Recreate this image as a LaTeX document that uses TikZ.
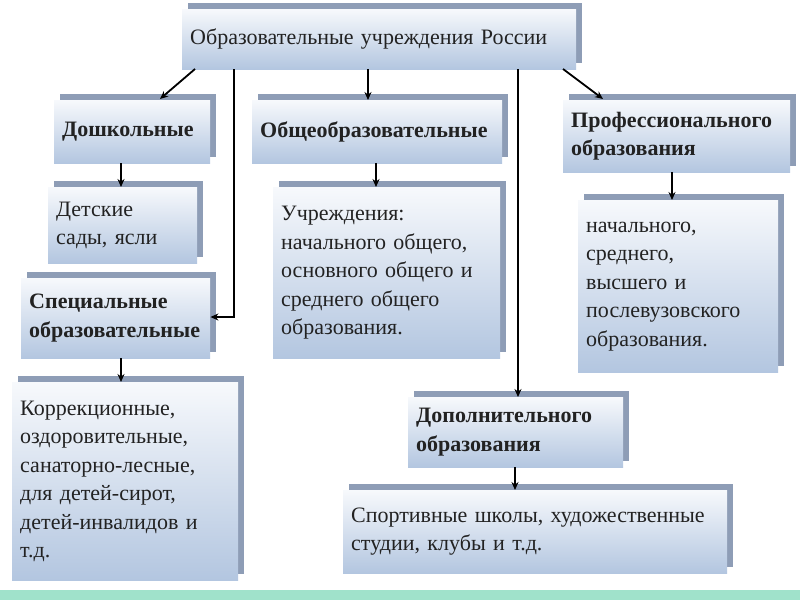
\documentclass[tikz,border=0pt]{standalone}
\usepackage{fontspec}
\setmainfont{Liberation Serif}
\usetikzlibrary{shadows,arrows.meta}
\definecolor{boxtop}{HTML}{F7F9FC}
\definecolor{boxbot}{HTML}{B3C6E0}
\definecolor{shadowc}{HTML}{8E9DB6}
\definecolor{stripc}{HTML}{A0E2CB}
\definecolor{textc}{HTML}{222222}
\tikzset{
  box/.style={anchor=north west, inner xsep=8pt, inner ysep=0pt, align=left,
    top color=boxtop, bottom color=boxbot, text=textc,
    drop shadow={shadow xshift=6pt, shadow yshift=6pt, fill=shadowc, opacity=1},
    font=\fontsize{22}{28.5}\selectfont},
  hbox/.style={box, font=\fontsize{22}{28.5}\selectfont\bfseries},
  conn/.style={line width=1.8pt, -{Stealth[length=8pt,width=7pt]}},
}
\begin{document}
\begin{tikzpicture}[x=1pt,y=-1pt]
\useasboundingbox (0,0) rectangle (800,600);
\fill[white] (0,0) rectangle (800,600);
\fill[stripc] (0,590) rectangle (800,600);
% boxes
\node[box, minimum width=394pt, minimum height=60pt, text width=378pt] (top) at (182,9) {Образовательные учреждения России};
\node[hbox, minimum width=156pt, minimum height=63pt, text width=140pt] (dosh) at (54,100) {Дошкольные};
\node[box, minimum width=149pt, minimum height=76pt, text width=133pt] (det) at (48,187) {Детские\\сады, ясли};
\node[hbox, minimum width=189pt, minimum height=80pt, text width=173pt] (spec) at (21,278) {Специальные\\образовательные};
\node[hbox, minimum width=250pt, minimum height=63pt, text width=234pt] (obsh) at (252,100) {Общеобразовательные};
\node[box, minimum width=227pt, minimum height=171pt, text width=211pt] (uch) at (273,187) {Учреждения:\\начального общего,\\основного общего и\\среднего общего\\образования.};
\node[hbox, minimum width=227pt, minimum height=72pt, text width=211pt] (prof) at (563,100) {Профессионального\\образования};
\node[box, minimum width=200pt, minimum height=172pt, text width=184pt] (nach) at (578,200) {начального,\\среднего,\\высшего и\\послевузовского\\образования.};
\node[box, minimum width=226pt, minimum height=198pt, text width=210pt] (korr) at (12,382) {Коррекционные,\\оздоровительные,\\санаторно-лесные,\\для детей-сирот,\\детей-инвалидов и\\т.д.};
\node[hbox, minimum width=215pt, minimum height=70pt, text width=199pt] (dop) at (408,397) {Дополнительного\\образования};
\node[box, minimum width=384pt, minimum height=83pt, text width=368pt] (sport) at (343,490) {Спортивные школы, художественные\\студии, клубы и т.д.};
% connector points
\coordinate (t1) at (195,69);
\coordinate (d1) at (160,99);
\coordinate (c1) at (234,69);
\coordinate (c2) at (234,317);
\coordinate (t3) at (368,69);
\coordinate (t4) at (518,69);
\coordinate (t5) at (563,69);
\coordinate (p1) at (603,99);
\coordinate (x1) at (121,0);
\coordinate (x2) at (376,0);
\coordinate (x3) at (672,0);
\coordinate (x4) at (515,0);
% connectors
\draw[conn] (t1) -- (d1);
\draw[conn] (c1) -- (c2) -- (spec.east |- c2);
\draw[conn] (t3) -- (obsh.north -| t3);
\draw[conn] (t4) -- (dop.north -| t4);
\draw[conn] (t5) -- (p1);
\draw[conn] (dosh.south -| x1) -- (det.north -| x1);
\draw[conn] (obsh.south -| x2) -- (uch.north -| x2);
\draw[conn] (prof.south -| x3) -- (nach.north -| x3);
\draw[conn] (spec.south -| x1) -- (korr.north -| x1);
\draw[conn] (dop.south -| x4) -- (sport.north -| x4);
\end{tikzpicture}
\end{document}
